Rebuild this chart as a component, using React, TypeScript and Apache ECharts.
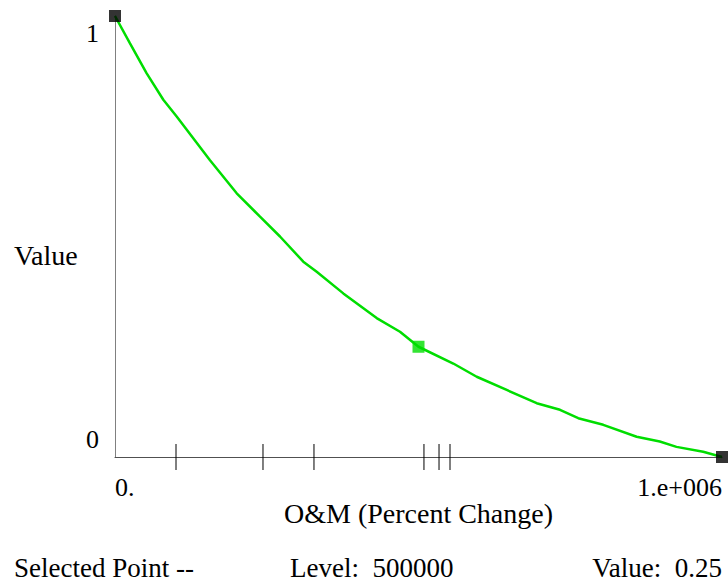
import React, { useEffect, useRef } from "react";
import * as echarts from "echarts";

const curveX = [0, 24700, 52200, 79600, 101600, 156500, 200500, 238900, 271800, 310200, 332300, 376100, 431100, 469500, 500000, 557300, 595900, 645300, 694700, 733100, 763200, 804400, 859400, 897500, 925000, 969000, 1000000];
const curveY = [1.0, 0.938, 0.87, 0.81, 0.772, 0.673, 0.598, 0.545, 0.5, 0.443, 0.42, 0.371, 0.315, 0.284, 0.25, 0.212, 0.182, 0.152, 0.122, 0.107, 0.088, 0.073, 0.046, 0.035, 0.023, 0.012, 0.0];
const endPoints = [[0, 1], [1000000, 0]];
const selectedPoint = [[500000, 0.25]];
const tickValues = [100500, 243800, 327800, 509000, 533800, 551900];
const xTickLabels = ["0.", "1.e+006"];
const yTickLabels = ["0", "1"];
const xName = "O&M (Percent Change)";
const yName = "Value";
const footer = ["Selected Point --", "Level:  500000", "Value:  0.25"];

const FONT = "Liberation Serif";
const FS = 26;
const NFS = 28;
const FFS = 27;

export default function App() {
  const ref = useRef<HTMLDivElement>(null);
  useEffect(() => {
    document.body.style.margin = "0";
    const chart = echarts.init(ref.current!, null, { renderer: "svg" });
    const green = "#00dd00";
    const txt = (s: string, size: number) => ({ text: s, fontFamily: FONT, fontSize: size, fill: "#000" });
    chart.setOption({
      animation: false,
      backgroundColor: "#ffffff",
      textStyle: { fontFamily: FONT, color: "#000" },
      grid: { left: 115, right: 6, top: 16, bottom: 131, containLabel: false },
      xAxis: {
        type: "value",
        min: 0,
        max: 1000000,
        interval: 1000000,
        name: xName,
        nameLocation: "middle",
        nameGap: 42,
        nameMoveOverlap: false,
        nameTextStyle: { fontFamily: FONT, fontSize: NFS, color: "#000" },
        axisLine: { show: true, lineStyle: { color: "#505050", width: 1 } },
        axisTick: { show: false },
        splitLine: { show: false },
        axisLabel: {
          margin: 17,
          fontFamily: FONT,
          fontSize: FS,
          color: "#000",
          alignMinLabel: "left",
          alignMaxLabel: "right",
          formatter: (v: number) => (v === 0 ? xTickLabels[0] : xTickLabels[1]),
        },
      },
      yAxis: {
        type: "value",
        min: 0,
        max: 1,
        interval: 1,
        axisLine: { show: true, lineStyle: { color: "#808080", width: 1 } },
        axisTick: { show: false },
        splitLine: { show: false },
        axisLabel: {
          margin: 16,
          fontFamily: FONT,
          fontSize: FS,
          color: "#000",
          formatter: (v: number) => (v === 1 ? "{t|" + yTickLabels[1] + "}" : "{b|" + yTickLabels[0] + "}"),
          rich: {
            t: { fontFamily: FONT, fontSize: FS, color: "#000", padding: [34, 0, 0, 0] },
            b: { fontFamily: FONT, fontSize: FS, color: "#000", padding: [0, 0, 36, 0] },
          },
        },
      },
      series: [
        {
          type: "custom",
          data: tickValues.map((v) => [v, 0]),
          renderItem: (params: any, api: any) => {
            const p = api.coord([api.value(0), 0]);
            return {
              type: "line",
              shape: { x1: p[0], y1: p[1] - 13, x2: p[0], y2: p[1] + 13 },
              style: { stroke: "#000", lineWidth: 1 },
            };
          },
          clip: false,
          silent: true,
          z: 1,
        },
        {
          type: "line",
          data: curveX.map((x, i) => [x, curveY[i]]),
          showSymbol: false,
          symbol: "none",
          smooth: false,
          lineStyle: { color: green, width: 2.5 },
          clip: false,
          z: 2,
        },
        {
          type: "scatter",
          data: endPoints,
          symbol: "rect",
          symbolSize: 12,
          itemStyle: { color: "#000" },
          clip: false,
          z: 3,
        },
        {
          type: "scatter",
          data: selectedPoint,
          symbol: "rect",
          symbolSize: 12,
          itemStyle: { color: green },
          clip: false,
          z: 3,
        },
      ],
      graphic: [
        { type: "text", left: 14, top: 241, style: txt(yName, NFS) },
        { type: "text", left: 14, top: 554, style: txt(footer[0], FFS) },
        { type: "text", left: 290, top: 554, style: txt(footer[1], FFS) },
        { type: "text", right: 6, top: 554, style: txt(footer[2], FFS) },
      ],
    });
    return () => chart.dispose();
  }, []);
  return <div ref={ref} style={{ width: 728, height: 588 }} />;
}
